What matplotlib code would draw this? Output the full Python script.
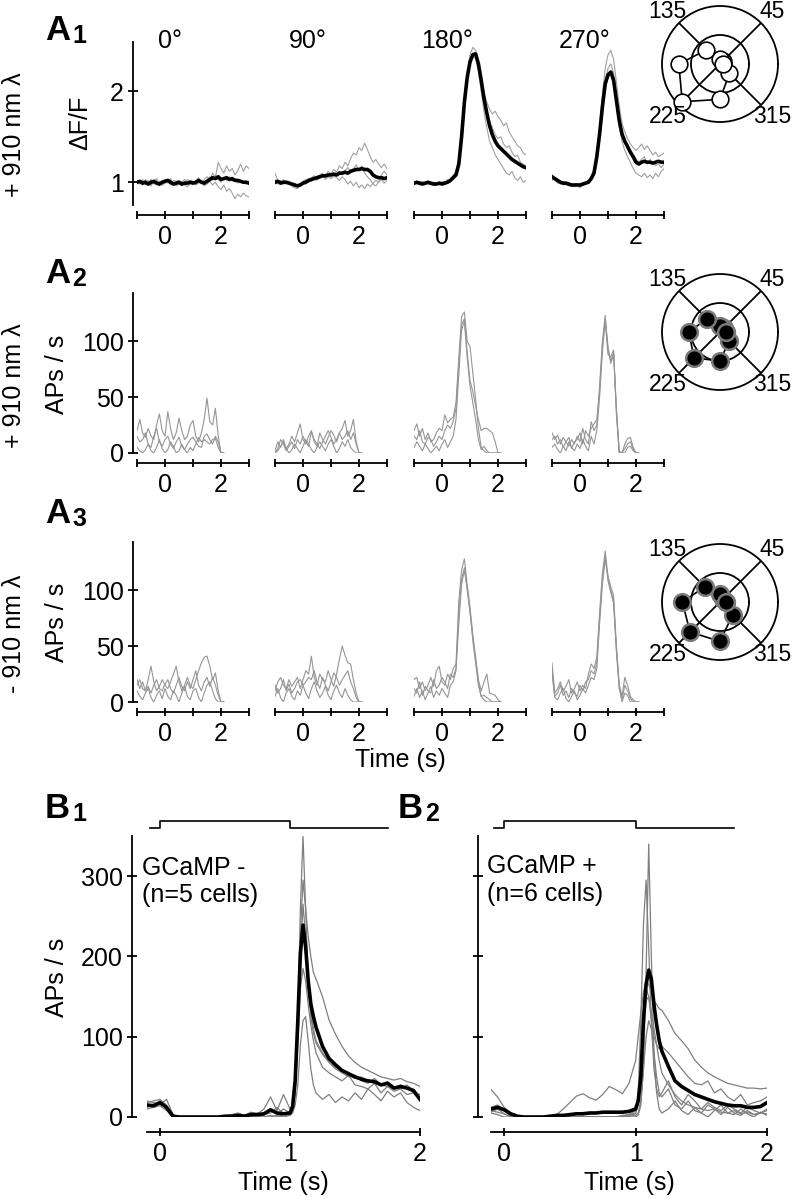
import numpy as np
import matplotlib
matplotlib.use('Agg')
import matplotlib.pyplot as plt

plt.rcParams['font.family'] = ['Liberation Sans', 'DejaVu Sans']
plt.rcParams['font.size'] = 18

#%% Daten A1 (dF/F, t = -1 ... 3 s, 0.1 s Raster)

a1_time = np.round(np.linspace(-1, 3, 41), 2)

a1_mean_0 = [1.00,1.01,0.99,1.00,0.98,1.00,1.01,0.99,0.98,1.00, 1.01,1.02,1.00,0.98,0.99,1.00,0.98,0.99,0.99,1.00,
             0.99,1.00,1.02,1.00,0.99,1.01,1.03,1.05,1.04,1.06, 1.03,1.04,1.05,1.03,1.04,1.02,1.02,1.01,1.00,1.00, 0.99]
a1_gray_0 = [
    [1.02,0.98,1.01,0.97,1.00,1.03,0.98,1.02,0.96,1.01, 1.03,0.99,1.04,0.97,1.01,1.02,0.96,0.99,1.03,1.00,
     0.98,1.01,1.05,0.99,1.03,1.06,1.02,1.10,1.05,1.22, 1.15,1.10,1.18,1.12,1.15,1.08,1.13,1.20,1.12,1.18, 1.15],
    [0.98,1.02,0.97,1.03,0.99,0.96,1.02,0.98,1.01,0.97, 0.99,1.03,0.97,1.00,0.96,0.99,1.01,0.97,0.95,0.98,
     1.00,0.97,0.99,1.02,0.96,0.98,1.01,0.97,1.00,0.95, 0.92,0.97,0.90,0.93,0.88,0.82,0.87,0.84,0.88,0.85, 0.84],
    [1.01,0.99,1.03,0.98,1.02,0.97,1.01,1.04,0.99,0.97, 1.03,1.00,0.98,1.02,1.01,0.97,1.00,1.03,0.98,1.02,
     1.01,0.98,1.03,1.01,0.98,1.02,1.06,1.02,1.08,1.03, 1.00,1.05,1.02,1.06,1.01,1.04,0.99,1.02,1.00,0.98, 1.00]]

a1_mean_90 = [1.00,1.01,0.99,1.00,1.00,0.99,0.98,0.97,0.96,0.97, 0.99,1.00,1.02,1.03,1.04,1.05,1.06,1.07,1.07,1.08,
              1.08,1.09,1.08,1.10,1.10,1.11,1.10,1.12,1.13,1.14, 1.14,1.15,1.14,1.14,1.12,1.08,1.06,1.05,1.05,1.04, 1.05]
a1_gray_90 = [
    [1.03,0.98,1.02,0.99,1.01,1.00,0.97,0.99,0.95,0.98, 1.01,1.03,1.00,1.05,1.07,1.04,1.08,1.10,1.06,1.12,
     1.09,1.14,1.11,1.18,1.15,1.22,1.18,1.26,1.32,1.30, 1.38,1.35,1.43,1.36,1.28,1.22,1.25,1.20,1.16,1.20, 1.15],
    [1.10,1.02,0.99,1.03,0.98,1.00,0.96,0.94,0.93,0.97, 1.00,0.98,1.03,1.01,1.06,1.02,1.05,1.08,1.03,1.06,
     1.04,1.07,1.05,1.02,1.06,1.03,0.98,1.01,0.96,1.00, 0.94,0.97,0.93,0.98,0.95,0.99,1.02,1.00,1.03,0.99, 1.02],
    [0.98,1.00,1.02,0.98,0.99,1.01,0.99,0.98,0.97,0.99, 0.98,1.01,1.04,1.02,1.03,1.07,1.05,1.06,1.09,1.07,
     1.10,1.06,1.09,1.12,1.08,1.13,1.16,1.12,1.15,1.19, 1.13,1.18,1.10,1.06,1.03,0.98,0.96,1.00,1.08,1.12, 1.08]]

a1_mean_180 = [0.99,1.00,0.99,0.98,0.99,1.00,0.99,0.98,0.98,0.99, 0.98,0.99,1.00,1.02,1.05,1.08,1.20,1.50,1.88,2.15,
               2.32,2.40,2.41,2.30,2.12,1.92,1.76,1.62,1.52,1.45, 1.40,1.37,1.34,1.31,1.28,1.25,1.23,1.21,1.19,1.17, 1.16]
a1_gray_180 = [
    [0.97,1.01,0.98,1.00,0.97,1.01,0.98,1.00,0.99,0.97, 1.01,1.00,1.03,1.00,1.08,1.10,1.25,1.55,1.92,2.22,
     2.40,2.48,2.45,2.30,2.12,1.98,1.88,1.80,1.75,1.78, 1.72,1.68,1.62,1.65,1.55,1.50,1.45,1.40,1.38,1.32, 1.30],
    [1.00,0.98,1.00,1.01,0.99,0.98,1.00,0.97,0.99,1.00, 0.98,1.00,0.99,1.03,1.05,1.12,1.20,1.45,1.82,2.12,
     2.30,2.42,2.40,2.30,2.15,1.95,1.78,1.66,1.60,1.52, 1.48,1.50,1.42,1.38,1.40,1.33,1.28,1.30,1.22,1.20, 1.18],
    [0.98,0.99,0.97,0.99,1.00,0.98,0.97,0.99,0.98,1.00, 0.97,0.98,1.00,1.02,1.06,1.10,1.18,1.42,1.82,2.10,
     2.30,2.38,2.36,2.22,2.00,1.78,1.60,1.45,1.38,1.30, 1.25,1.20,1.15,1.10,1.08,1.12,1.05,1.02,1.06,1.00, 1.02]]

a1_mean_270 = [1.06,1.04,1.02,1.00,0.99,0.99,0.98,0.97,0.97,0.97, 0.97,0.98,0.99,1.00,1.04,1.10,1.28,1.53,1.83,2.08,
               2.18,2.21,2.12,1.90,1.68,1.53,1.45,1.39,1.33,1.28, 1.22,1.20,1.22,1.23,1.22,1.22,1.21,1.22,1.23,1.22, 1.22]
a1_gray_270 = [
    [1.08,1.02,1.00,0.98,1.01,0.97,0.96,0.98,0.95,0.97, 0.96,0.99,1.00,1.02,1.06,1.15,1.32,1.60,1.95,2.25,
     2.40,2.45,2.35,2.10,1.85,1.65,1.55,1.48,1.42,1.38, 1.35,1.38,1.42,1.36,1.40,1.35,1.30,1.33,1.28,1.30, 1.32],
    [1.05,1.03,0.99,1.01,0.97,0.99,0.97,0.95,0.97,0.96, 0.94,0.97,0.98,1.01,1.03,1.08,1.22,1.48,1.75,2.02,
     2.15,2.20,2.10,1.85,1.60,1.45,1.35,1.28,1.22,1.15, 1.10,1.08,1.06,1.10,1.05,1.08,1.04,1.10,1.06,1.12, 1.15],
    [1.02,1.05,1.03,0.99,0.98,1.00,0.98,0.97,0.96,0.98, 0.97,0.96,0.99,1.00,1.05,1.10,1.25,1.50,1.85,2.10,
     2.25,2.30,2.20,1.95,1.72,1.55,1.45,1.38,1.33,1.30, 1.25,1.22,1.25,1.28,1.20,1.25,1.22,1.18,1.20,1.16, 1.20]]

#%% Daten A2 / A3 (APs/s, t = -1 ... 2.1 s)

a_time = np.round(np.linspace(-1, 2.1, 32), 2)

a2_gray_0 = [
    [20,30,18,14,22,15,12,25,35,20, 15,37,22,12,18,31,20,12,15,25, 29,15,10,18,30,49,28,25,40,15, 0,0],
    [15,10,12,18,8,5,15,22,10,6, 12,15,8,4,10,14,6,3,8,12, 14,10,6,5,15,17,12,8,15,10, 0,0],
    [5,2,0,3,8,2,0,5,12,4, 0,3,10,6,0,2,8,3,0,5, 2,8,14,10,12,10,8,12,13,5, 0,0]]
a2_gray_90 = [
    [2,10,5,12,4,8,15,10,18,26, 12,8,15,20,10,6,18,12,8,14, 20,16,10,18,22,29,15,20,30,10, 0,0],
    [0,4,12,8,2,6,10,4,12,8, 15,10,6,19,12,8,4,10,15,20, 14,8,12,18,12,15,20,12,18,8, 0,0],
    [0,2,6,10,4,0,3,8,4,0, 6,12,8,3,0,5,10,6,2,8, 12,6,0,4,10,6,12,5,2,0, 0,0]]
a2_gray_180 = [
    [20,26,15,22,12,18,10,12,18,22, 20,34,27,30,32,45,85,122,126,100, 95,72,48,22,5,2,0,0,0,0, 0,0],
    [15,12,20,10,8,14,12,6,10,15, 12,20,25,22,28,40,80,115,120,90, 65,55,42,30,20,22,22,20,18,10, 0,0],
    [5,10,6,2,8,4,0,3,6,2, 8,12,5,10,15,30,70,110,118,85, 60,45,30,12,3,6,2,0,0,0, 0,0]]
a2_gray_270 = [
    [18,12,16,8,14,10,6,12,8,15, 10,22,12,8,28,20,25,60,100,123, 92,82,90,40,2,0,8,13,14,5, 0,0],
    [12,15,8,12,5,10,14,4,10,12, 18,8,20,15,22,26,30,55,95,118, 88,86,92,35,0,0,4,8,10,3, 0,0],
    [5,8,3,0,6,2,10,5,2,8, 4,12,6,2,15,8,20,50,90,120, 95,80,88,38,0,0,0,5,6,2, 0,0]]

a3_gray_0 = [
    [15,20,12,10,20,32,18,10,14,20, 15,12,18,25,32,18,10,15,22,15, 12,20,28,35,40,41,32,20,26,10, 0,0],
    [20,12,18,10,14,8,15,20,12,10, 16,20,12,8,15,22,14,10,18,12, 20,28,15,10,18,22,14,22,15,6, 0,0],
    [10,5,2,8,12,4,0,6,10,3, 12,5,2,10,6,0,8,14,5,2, 10,12,4,0,8,15,18,10,3,0, 0,0]]
a3_gray_90 = [
    [10,18,22,15,12,20,14,18,22,12, 20,28,25,41,22,15,25,20,18,28, 20,14,25,38,50,42,35,34,20,8, 0,0],
    [15,8,12,20,10,16,8,12,18,20, 15,18,22,20,28,18,12,22,15,10, 18,26,22,15,20,24,28,18,12,4, 0,0],
    [5,12,4,0,8,12,5,2,10,6, 15,8,3,12,18,10,4,8,14,6, 2,10,15,8,4,12,6,2,0,0, 0,0]]
a3_gray_180 = [
    [20,22,12,18,10,15,22,14,28,32, 18,15,25,20,30,34,90,118,128,105, 85,60,40,20,10,18,25,8,7,6, 2,0],
    [12,8,18,6,14,10,8,20,12,15, 22,18,12,25,22,30,80,110,120,100, 82,55,35,15,5,6,4,2,0,0, 0,0],
    [5,12,4,10,2,8,14,4,10,6, 12,8,4,15,18,28,70,105,118,102, 80,58,38,18,5,2,0,0,0,0, 0,0]]
a3_gray_270 = [
    [35,8,12,18,10,14,20,8,12,18, 10,15,12,25,34,30,40,80,115,135, 112,103,95,50,16,5,22,15,5,2, 0,0],
    [30,5,8,15,6,10,4,12,8,5, 15,10,18,20,28,25,35,75,110,130, 108,98,88,45,12,2,15,10,3,0, 0,0],
    [25,4,2,8,12,3,0,5,10,2, 6,12,8,15,22,20,30,70,105,128, 112,100,90,48,14,0,8,6,0,0, 0,0]]

#%% Polar-Tuning (normiert, Aussenkreis = 1)

polar_angles = [0, 45, 90, 135, 180, 225, 270, 315]
a1_polar = [0.05, 0.08, 0.08, 0.34, 0.71, 0.92, 0.61, 0.23]
a2_polar = [0.11, 0.10, 0.11, 0.32, 0.54, 0.63, 0.50, 0.22]
a3_polar = [0.10, 0.08, 0.13, 0.37, 0.65, 0.73, 0.68, 0.31]

#%% Daten B (APs/s)

b_time = np.concatenate([np.linspace(-0.1, 0.95, 22), np.linspace(1.0, 1.18, 10), np.linspace(1.2, 2.0, 17)])

b1_mean = [15,14,18,12,1,0,0,0,0,0, 0,0,1,1,2,1,3,3,4,9, 5,4,
           5,13,46,120,204,239,212,170,141,125,
           112,88,73,65,58,54,50,47,45,44,40,42,36,38,36,33,22]
b1_gray = [
    [12,15,20,10,0,0,0,0,0,0, 0,0,0,2,0,3,0,5,2,8, 3,10,
     5,8,30,120,260,350,260,170,130,110,
     95,80,70,62,58,52,48,50,45,42,40,38,35,40,36,30,28],
    [18,20,22,15,2,0,0,0,0,0, 0,0,1,3,5,2,6,4,10,25, 8,28,
     10,15,40,110,230,295,260,225,200,180,
     172,150,121,103,88,76,68,62,58,54,50,48,46,48,44,42,38],
    [20,18,15,22,3,0,0,0,0,0, 0,0,0,0,1,0,2,0,3,5, 12,4,
     3,8,35,100,200,265,225,160,125,105,
     92,78,68,60,55,50,52,45,42,48,40,44,38,35,40,32,25],
    [10,12,14,8,0,0,0,0,0,0, 0,0,0,0,0,0,0,0,0,2, 0,3,
     2,5,15,40,90,120,125,95,60,40,
     30,22,28,18,25,20,30,22,35,28,20,32,25,30,18,12,8],
    [14,16,19,12,0,0,0,0,0,0, 0,0,0,0,0,0,0,0,0,0, 2,0,
     2,6,30,90,160,185,170,140,115,95,
     80,62,55,50,45,52,40,38,35,42,30,38,32,35,28,30,20]]

b2_mean = [10,12,9,4,1,0,0,0,0,1, 2,2,3,4,4,5,5,6,6,6, 6,7,
           10,20,50,121,165,183,172,140,115,95,
           82,63,45,38,33,28,25,22,19,17,15,14,14,12,12,13,18]
b2_gray = [
    [5,3,0,0,0,0,0,0,0,0, 0,0,0,0,0,0,0,0,0,0, 0,0,
     0,2,15,60,180,340,200,80,30,10,
     5,10,20,8,3,12,5,0,8,15,5,3,10,4,0,6,2],
    [6,10,4,0,0,0,0,0,0,0, 0,0,0,0,0,0,0,0,0,0, 1,2,
     4,30,120,240,295,210,120,60,35,25,
     30,45,25,15,28,20,10,18,12,8,15,10,5,12,8,5,10],
    [34,25,12,5,2,0,0,0,0,0, 3,10,18,26,29,24,21,28,38,34, 29,42,
     70,100,130,155,170,165,155,145,140,135,
     133,120,104,95,85,71,62,55,50,46,42,40,38,36,36,35,36],
    [12,15,8,2,0,0,0,0,0,0, 0,0,0,0,0,0,0,0,0,0, 1,3,
     8,20,60,120,160,150,120,100,90,85,
     88,80,70,60,50,42,40,45,30,35,25,20,28,15,18,20,25],
    [8,6,4,1,0,0,0,0,0,0, 0,0,0,0,0,0,0,0,0,0, 0,1,
     2,5,20,60,100,120,110,80,50,30,
     25,35,15,10,20,8,5,15,10,3,12,5,2,8,3,5,8],
    [10,12,10,5,1,0,0,0,0,0, 0,0,0,0,0,0,0,0,0,0, 2,3,
     5,15,50,100,145,150,130,110,90,70,
     55,40,28,20,15,12,10,8,10,6,5,8,4,6,3,5,4]]

# Stimulus (Balken ueber B)
stim_t = [-0.08, 0, 0, 1, 1, 1.75]
stim_level = [0, 0, 1, 1, 0, 0]

directions = ['0°', '90°', '180°', '270°']

#%% Figur

W, H = 793, 1199
fig = plt.figure(figsize=(W/100, H/100), dpi=100)

def box(left, top, width, height, **kw):
    # Pixel-Koordinaten (oben links) -> figure fraction
    return fig.add_axes([left/W, 1-(top+height)/H, width/W, height/H], **kw)

def label(x, y, s, **kw):
    fig.text(x/W, 1-y/H, s, **kw)

def style(ax, xlim, ylim, xticks, xlabels, yticks=None, ylabels=None, xoff=7.2, yoff=2.9):
    ax.set_xlim(xlim)
    ax.set_ylim(ylim)
    ax.patch.set_visible(False)
    for s in ('top', 'right'):
        ax.spines[s].set_visible(False)
    ax.spines['bottom'].set_position(('outward', xoff))
    ax.spines['bottom'].set_linewidth(1.3)
    ax.set_xticks(xticks)
    ax.set_xticklabels(xlabels)
    ax.tick_params(axis='x', direction='inout', length=6, width=1.3, pad=4, labelsize=18)
    if yticks is None:
        ax.spines['left'].set_visible(False)
        ax.set_yticks([])
    else:
        ax.spines['left'].set_position(('outward', yoff))
        ax.spines['left'].set_linewidth(1.3)
        ax.set_yticks(yticks)
        ax.set_yticklabels(ylabels)
        ax.tick_params(axis='y', direction='inout', length=7, width=1.3, pad=3, labelsize=18)

def polar_panel(cx, cy, values, face, edge, ew):
    ax = box(cx-58, cy-58, 116, 116, projection='polar')
    ax.set_ylim(0, 1)
    ax.set_thetagrids([45, 135, 225, 315], labels=['']*4)
    ax.set_rgrids([0.5], labels=[''])
    ax.grid(True, color='black', lw=1.3, ls='-')
    ax.spines['polar'].set_linewidth(1.3)
    ax.patch.set_visible(False)
    ang = np.deg2rad(polar_angles + [polar_angles[0]])
    ax.plot(ang, values + [values[0]], color='black', lw=1.2, marker='o', ms=12,
            mfc=face, mec=edge, mew=ew, zorder=3, clip_on=False)
    for a in (45, 135, 225, 315):
        ax.text(np.deg2rad(a), 1.28, str(a), ha='center', va='center', fontsize=16.5)

a_lefts = [137, 275, 414, 552]
gray_a1 = '#a0a0a0'
gray_a = '#959595'
gray_b = '#7f7f7f'

# --- A1
a1_means = [a1_mean_0, a1_mean_90, a1_mean_180, a1_mean_270]
a1_grays = [a1_gray_0, a1_gray_90, a1_gray_180, a1_gray_270]
for i in range(4):
    ax = box(a_lefts[i], 42, 112, 163)
    for g in a1_grays[i]:
        ax.plot(a1_time, g, color=gray_a1, lw=0.8)
    ax.plot(a1_time, a1_means[i], color='black', lw=2.6)
    if i == 0:
        style(ax, (-1, 3), (0.75, 2.54), [-1, 0, 1, 2, 3], ['', '0', '', '2', ''], [1, 2], ['1', '2'])
    else:
        style(ax, (-1, 3), (0.75, 2.54), [-1, 0, 1, 2, 3], ['', '0', '', '2', ''])
    label(a_lefts[i] + 33, 41, directions[i], ha='center', va='center', fontsize=18)

# --- A2, A3
for row_top, grays in ((293, [a2_gray_0, a2_gray_90, a2_gray_180, a2_gray_270]),
                       (542, [a3_gray_0, a3_gray_90, a3_gray_180, a3_gray_270])):
    for i in range(4):
        ax = box(a_lefts[i], row_top, 112, 160)
        for g in grays[i]:
            ax.plot(a_time, g, color=gray_a, lw=0.8)
        if i == 0:
            style(ax, (-1, 3), (0, 143), [-1, 0, 1, 2, 3], ['', '0', '', '2', ''], [0, 50, 100], ['0', '50', '100'])
        else:
            style(ax, (-1, 3), (0, 143), [-1, 0, 1, 2, 3], ['', '0', '', '2', ''])

polar_panel(720, 64, a1_polar, 'white', 'black', 1.2)
polar_panel(720, 332, a2_polar, 'black', '#7a7a7a', 1.8)
polar_panel(720, 602, a3_polar, 'black', '#7a7a7a', 1.8)

# --- B1, B2
for left, width, mean, grays, yoff, ylabels in ((147, 273, b1_mean, b1_gray, 10.8, ['0', '100', '200', '300']),
                                                 (491, 276, b2_mean, b2_gray, 9.4, ['', '', '', ''])):
    ax = box(left, 836, width, 281)
    for g in grays:
        ax.plot(b_time, g, color=gray_b, lw=0.9)
    ax.plot(b_time, mean, color='black', lw=2.6)
    ax.plot(stim_t, 360 + 9*np.array(stim_level), color='black', lw=1.2, clip_on=False)
    style(ax, (-0.1, 2.0), (0, 350), [0, 1, 2], ['0', '1', '2'], [0, 100, 200, 300], ylabels,
          xoff=10.8, yoff=yoff)

# --- Beschriftungen
for y, s in ((135, '+ 910 nm λ'), (386, '+ 910 nm λ'), (634, '- 910 nm λ')):
    label(14, y, s, rotation=90, ha='center', va='center', fontsize=18)
label(80, 123, 'ΔF/F', rotation=90, ha='center', va='center', fontsize=18)
for y in (374, 622, 977):
    label(57, y, 'APs / s', rotation=90, ha='center', va='center', fontsize=18)

label(400, 760, 'Time (s)', ha='center', va='center', fontsize=18)
label(283, 1183, 'Time (s)', ha='center', va='center', fontsize=18)
label(629, 1183, 'Time (s)', ha='center', va='center', fontsize=18)

label(142, 868, 'GCaMP -', ha='left', va='center', fontsize=18)
label(142, 895, '(n=5 cells)', ha='left', va='center', fontsize=18)
label(487, 866, 'GCaMP +', ha='left', va='center', fontsize=18)
label(487, 894, '(n=6 cells)', ha='left', va='center', fontsize=18)

for x, y, big, sub in ((45, 40, 'A', '1'), (45, 283, 'A', '2'), (45, 523, 'A', '3'),
                       (45, 818, 'B', '1'), (398, 818, 'B', '2')):
    label(x, y, big, ha='left', va='baseline', fontsize=25, fontweight='bold')
    label(x + 27, y + 3, sub, ha='left', va='baseline', fontsize=18, fontweight='bold')

fig.savefig('out.png', dpi=100)
